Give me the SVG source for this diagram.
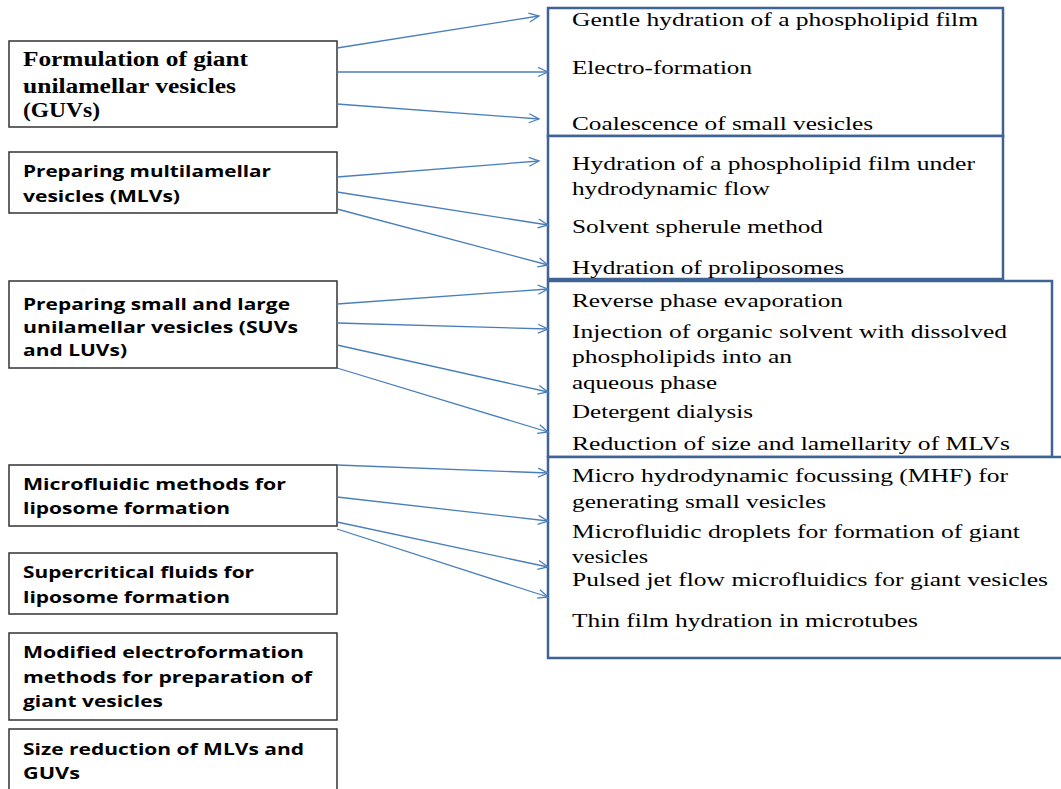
<svg xmlns="http://www.w3.org/2000/svg" width="1061" height="789" viewBox="0 0 1061 789">
<style>
.lbox{fill:#fff;stroke:#333;stroke-width:1.5}
.rbox{fill:#fff;stroke:#3f6494;stroke-width:2.5}
.lt{font-family:"Open Sans","Liberation Sans",sans-serif;font-weight:700;font-size:16.5px;fill:#000}
.lts{font-family:"Liberation Serif","Times New Roman",serif;font-weight:700;font-size:20px;fill:#000}
.rt{font-family:"Liberation Serif","Times New Roman",serif;font-size:19.5px;fill:#000}
.conn path{fill:none;stroke:#4a7ebb;stroke-width:1.3;marker-end:url(#arr)}
</style>
<defs>
<marker id="arr" markerUnits="userSpaceOnUse" markerWidth="14" markerHeight="12" refX="11" refY="5.5" orient="auto">
<path d="M1,1 L11,5.5 L1,10" fill="none" stroke="#4a7ebb" stroke-width="1.3"/>
</marker>
</defs>
<rect width="1061" height="789" fill="#fff"/>

<g id="right-A">
<rect class="rbox" x="548" y="8" width="455" height="128"/>
<text class="rt" x="572" y="26" textLength="406" lengthAdjust="spacingAndGlyphs">Gentle hydration of a phospholipid film</text>
<text class="rt" x="572" y="74" textLength="180" lengthAdjust="spacingAndGlyphs">Electro-formation</text>
<text class="rt" x="572" y="130" textLength="301" lengthAdjust="spacingAndGlyphs">Coalescence of small vesicles</text>
</g>
<g id="right-B">
<rect class="rbox" x="548" y="136" width="455" height="143"/>
<text class="rt" x="572" y="170" textLength="403" lengthAdjust="spacingAndGlyphs">Hydration of a phospholipid film under</text>
<text class="rt" x="572" y="195" textLength="198" lengthAdjust="spacingAndGlyphs">hydrodynamic flow</text>
<text class="rt" x="572" y="233" textLength="251" lengthAdjust="spacingAndGlyphs">Solvent spherule method</text>
<text class="rt" x="572" y="274" textLength="272" lengthAdjust="spacingAndGlyphs">Hydration of proliposomes</text>
</g>
<g id="right-C">
<rect class="rbox" x="548" y="281" width="504" height="176"/>
<text class="rt" x="572" y="307" textLength="271" lengthAdjust="spacingAndGlyphs">Reverse phase evaporation</text>
<text class="rt" x="572" y="338" textLength="435" lengthAdjust="spacingAndGlyphs">Injection of organic solvent with dissolved</text>
<text class="rt" x="572" y="363" textLength="220" lengthAdjust="spacingAndGlyphs">phospholipids into an</text>
<text class="rt" x="572" y="389" textLength="145" lengthAdjust="spacingAndGlyphs">aqueous phase</text>
<text class="rt" x="572" y="418" textLength="181" lengthAdjust="spacingAndGlyphs">Detergent dialysis</text>
<text class="rt" x="572" y="450" textLength="438" lengthAdjust="spacingAndGlyphs">Reduction of size and lamellarity of MLVs</text>
</g>
<g id="right-D">
<rect class="rbox" x="548" y="457" width="516" height="201"/>
<text class="rt" x="572" y="482" textLength="436" lengthAdjust="spacingAndGlyphs">Micro hydrodynamic focussing (MHF) for</text>
<text class="rt" x="572" y="508" textLength="254" lengthAdjust="spacingAndGlyphs">generating small vesicles</text>
<text class="rt" x="572" y="538" textLength="448" lengthAdjust="spacingAndGlyphs">Microfluidic droplets for formation of giant</text>
<text class="rt" x="572" y="563" textLength="76" lengthAdjust="spacingAndGlyphs">vesicles</text>
<text class="rt" x="572" y="586" textLength="476" lengthAdjust="spacingAndGlyphs">Pulsed jet flow microfluidics for giant vesicles</text>
<text class="rt" x="572" y="627" textLength="346" lengthAdjust="spacingAndGlyphs">Thin film hydration in microtubes</text>
</g>

<g id="left-1">
<rect class="lbox" x="9" y="41" width="328" height="86"/>
<text class="lts" x="23" y="66" textLength="225" lengthAdjust="spacingAndGlyphs">Formulation of giant</text>
<text class="lts" x="23" y="93" textLength="213" lengthAdjust="spacingAndGlyphs">unilamellar vesicles</text>
<text class="lts" x="23" y="117" textLength="77" lengthAdjust="spacingAndGlyphs">(GUVs)</text>
</g>
<g id="left-2">
<rect class="lbox" x="9" y="152" width="328" height="61"/>
<text class="lt" x="23" y="177" textLength="248" lengthAdjust="spacingAndGlyphs">Preparing multilamellar</text>
<text class="lt" x="23" y="202" textLength="157" lengthAdjust="spacingAndGlyphs">vesicles (MLVs)</text>
</g>
<g id="left-3">
<rect class="lbox" x="9" y="281" width="328" height="87"/>
<text class="lt" x="23" y="310" textLength="267" lengthAdjust="spacingAndGlyphs">Preparing small and large</text>
<text class="lt" x="23" y="333" textLength="275" lengthAdjust="spacingAndGlyphs">unilamellar vesicles (SUVs</text>
<text class="lt" x="23" y="356" textLength="104" lengthAdjust="spacingAndGlyphs">and LUVs)</text>
</g>
<g id="left-4">
<rect class="lbox" x="9" y="465" width="328" height="61"/>
<text class="lt" x="23" y="490" textLength="263" lengthAdjust="spacingAndGlyphs">Microfluidic methods for</text>
<text class="lt" x="23" y="514" textLength="207" lengthAdjust="spacingAndGlyphs">liposome formation</text>
</g>
<g id="left-5">
<rect class="lbox" x="9" y="553" width="328" height="61"/>
<text class="lt" x="23" y="578" textLength="231" lengthAdjust="spacingAndGlyphs">Supercritical fluids for</text>
<text class="lt" x="23" y="603" textLength="207" lengthAdjust="spacingAndGlyphs">liposome formation</text>
</g>
<g id="left-6">
<rect class="lbox" x="9" y="633" width="328" height="87"/>
<text class="lt" x="23" y="658" textLength="281" lengthAdjust="spacingAndGlyphs">Modified electroformation</text>
<text class="lt" x="23" y="683" textLength="289" lengthAdjust="spacingAndGlyphs">methods for preparation of</text>
<text class="lt" x="23" y="707" textLength="140" lengthAdjust="spacingAndGlyphs">giant vesicles</text>
</g>
<g id="left-7">
<rect class="lbox" x="9" y="729" width="328" height="70"/>
<text class="lt" x="23" y="755" textLength="281" lengthAdjust="spacingAndGlyphs">Size reduction of MLVs and</text>
<text class="lt" x="23" y="779" textLength="57" lengthAdjust="spacingAndGlyphs">GUVs</text>
</g>

<g id="connectors" class="conn">
<path d="M337,48 L539,16"/>
<path d="M337,72 L548,72"/>
<path d="M337,104 L539,119"/>
<path d="M337,177 L539,161"/>
<path d="M337,192 L548,225"/>
<path d="M337,209 L548,265"/>
<path d="M337,304 L548,289"/>
<path d="M337,323 L548,329"/>
<path d="M337,345 L548,392"/>
<path d="M337,368 L548,432"/>
<path d="M337,465 L548,473"/>
<path d="M337,497 L548,521"/>
<path d="M337,522 L548,567"/>
<path d="M337,529 L548,597"/>
</g>
</svg>
